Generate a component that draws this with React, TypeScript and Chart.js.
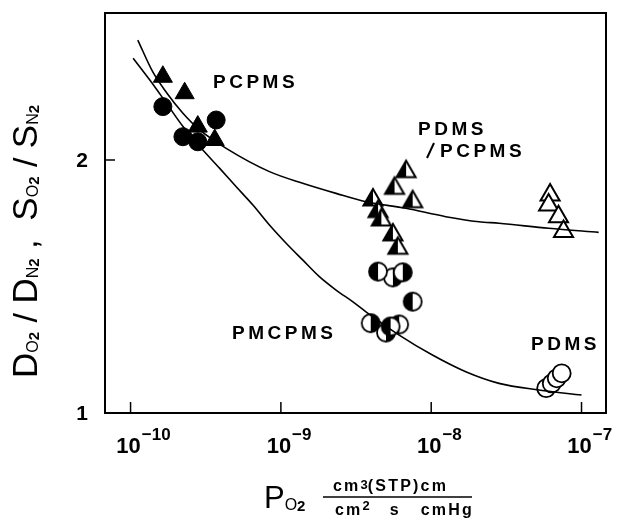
import React, { useEffect, useRef } from 'react';
import { Chart, registerables } from 'chart.js';
Chart.register(...registerables);

// ---- data (x = P_O2, y = selectivity ratio) ----
const pcpmsTriX = [1.64e-10, 2.29e-10, 2.8e-10, 3.63e-10];
const pcpmsTriY = [2.329, 2.264, 2.132, 2.079];
const pcpmsCircX = [1.64e-10, 2.23e-10, 2.8e-10, 3.71e-10];
const pcpmsCircY = [2.211, 2.092, 2.072, 2.158];
const blendTriX = [6.81e-9, 5.7e-9, 4.1e-9, 7.53e-9, 4.43e-9, 4.66e-9, 5.56e-9, 6.0e-9];
const blendTriY = [1.954, 1.888, 1.842, 1.835, 1.796, 1.763, 1.704, 1.651];
const pmcpmsLX = [4.43e-9, 7.53e-9, 6.12e-9, 5.37e-9];
const pmcpmsLY = [1.559, 1.44, 1.35, 1.342];
const pmcpmsRX = [5.56e-9, 6.47e-9, 3.96e-9, 5.0e-9];
const pmcpmsRY = [1.536, 1.556, 1.355, 1.318];
const pdmsTriX = [6.18e-8, 6.04e-8, 7.03e-8, 7.59e-8];
const pdmsTriY = [1.862, 1.822, 1.776, 1.717];
const pdmsCircX = [5.82e-8, 6.34e-8, 6.84e-8, 7.38e-8];
const pdmsCircY = [1.098, 1.117, 1.137, 1.157];

const upperCurveX = [1.117e-10, 1.406e-10, 1.742e-10, 2.223e-10, 2.884e-10, 4.355e-10, 8.395e-10, 1.396e-9, 2.328e-9, 3.681e-9, 6.776e-9, 1.25e-8, 2.08e-8, 2.825e-8, 6.053e-8, 1.3e-7];
const upperCurveY = [2.474, 2.348, 2.265, 2.186, 2.119, 2.045, 1.954, 1.908, 1.868, 1.835, 1.809, 1.776, 1.756, 1.75, 1.73, 1.714];
const lowerCurveX = [1.04e-10, 1.343e-10, 1.734e-10, 2.234e-10, 2.884e-10, 3.917e-10, 5.047e-10, 6.516e-10, 8.395e-10, 1.084e-9, 1.396e-9, 1.803e-9, 2.328e-9, 3.0e-9, 3.681e-9, 6.124e-9, 1.019e-8, 1.698e-8, 2.825e-8, 5.2e-8, 1.0e-7];
const lowerCurveY = [2.402, 2.316, 2.224, 2.132, 2.053, 1.967, 1.894, 1.822, 1.743, 1.671, 1.605, 1.539, 1.486, 1.44, 1.4, 1.308, 1.229, 1.163, 1.117, 1.091, 1.071];

const xTickExps = [-10, -9, -8, -7];
const yTicks = [1, 2];
const xMin = 6.76e-11;
const xMax = 1.455e-7;
const yMin = 1;
const yMax = 2.581;

const labels = [
  { text: 'PCPMS', x: 213, y: 88 },
  { text: 'PDMS', x: 418, y: 135 },
  { text: 'PCPMS', x: 440, y: 157 },
  { text: 'PMCPMS', x: 232, y: 339 },
  { text: 'PDMS', x: 531, y: 350 },
];

const zip = (xs: number[], ys: number[]) => xs.map((x, i) => ({ x, y: ys[i] }));

function makeHalfTriangle(): HTMLCanvasElement {
  const c = document.createElement('canvas');
  c.width = 28; c.height = 28;
  const g = c.getContext('2d')!;
  const cx = 14, cy = 14, r = 11;
  const s = r * Math.sin(Math.PI / 3);
  g.beginPath();
  g.moveTo(cx, cy - r); g.lineTo(cx + s, cy + r / 2); g.lineTo(cx - s, cy + r / 2); g.closePath();
  g.fillStyle = '#fff'; g.fill();
  g.beginPath();
  g.moveTo(cx, cy - r); g.lineTo(cx, cy + r / 2); g.lineTo(cx - s, cy + r / 2); g.closePath();
  g.fillStyle = '#000'; g.fill();
  g.beginPath();
  g.moveTo(cx, cy - r); g.lineTo(cx + s, cy + r / 2); g.lineTo(cx - s, cy + r / 2); g.closePath();
  g.lineWidth = 2; g.lineJoin = 'miter'; g.strokeStyle = '#000'; g.stroke();
  return c;
}

function makeHalfCircle(leftBlack: boolean): HTMLCanvasElement {
  const c = document.createElement('canvas');
  c.width = 24; c.height = 24;
  const g = c.getContext('2d')!;
  const cx = 12, cy = 12, r = 9;
  g.beginPath(); g.arc(cx, cy, r, 0, Math.PI * 2); g.fillStyle = '#fff'; g.fill();
  g.beginPath();
  if (leftBlack) g.arc(cx, cy, r, Math.PI / 2, Math.PI * 1.5);
  else g.arc(cx, cy, r, -Math.PI / 2, Math.PI / 2);
  g.closePath(); g.fillStyle = '#000'; g.fill();
  g.beginPath(); g.arc(cx, cy, r, 0, Math.PI * 2);
  g.lineWidth = 1.8; g.strokeStyle = '#000'; g.stroke();
  return c;
}

const SANS = '"Liberation Sans", Arial, sans-serif';

type Run = { t: string; size: number; bold?: boolean; dy?: number; ls?: number };
function drawRuns(ctx: CanvasRenderingContext2D, x: number, y: number, runs: Run[]) {
  let cx = x;
  for (const r of runs) {
    ctx.font = `${r.bold ? 'bold ' : ''}${r.size}px ${SANS}`;
    (ctx as any).letterSpacing = `${r.ls ?? 0}px`;
    ctx.fillText(r.t, cx, y + (r.dy ?? 0));
    cx += ctx.measureText(r.t).width;
  }
  (ctx as any).letterSpacing = '0px';
  return cx;
}

const decorPlugin = {
  id: 'decor',
  afterDraw(chart: any) {
    const ctx: CanvasRenderingContext2D = chart.ctx;
    const { left, right, top, bottom } = chart.chartArea;
    const xs = chart.scales.x, ys = chart.scales.y;
    ctx.save();
    ctx.strokeStyle = '#000';
    ctx.fillStyle = '#000';
    ctx.lineWidth = 2;
    ctx.strokeRect(left, top, right - left, bottom - top);
    // ticks
    ctx.lineWidth = 1.5;
    for (const e of xTickExps) {
      const px = xs.getPixelForValue(Math.pow(10, e));
      ctx.beginPath(); ctx.moveTo(px, bottom); ctx.lineTo(px, bottom - 11); ctx.stroke();
    }
    for (const v of yTicks) {
      const py = ys.getPixelForValue(v);
      if (v > yMin) { ctx.beginPath(); ctx.moveTo(left, py); ctx.lineTo(left + 10, py); ctx.stroke(); }
    }
    // x tick labels
    ctx.textBaseline = 'alphabetic';
    ctx.textAlign = 'left';
    for (const e of xTickExps) {
      const px = xs.getPixelForValue(Math.pow(10, e));
      ctx.font = `bold 22px ${SANS}`;
      const w = ctx.measureText('10').width;
      const sx = px - w / 2 - 2;
      ctx.fillText('10', sx, 453);
      ctx.font = `bold 17px ${SANS}`;
      ctx.fillText('\u2212' + Math.abs(e), sx + w + 1, 440);
    }
    // y tick labels
    ctx.textAlign = 'right';
    ctx.textBaseline = 'middle';
    ctx.font = `bold 21px ${SANS}`;
    for (const v of yTicks) {
      ctx.fillText(String(v), 88, ys.getPixelForValue(v) + 1);
    }
    // annotations
    ctx.textAlign = 'left';
    ctx.textBaseline = 'alphabetic';
    for (const l of labels) {
      drawRuns(ctx, l.x, l.y, [{ t: l.text, size: 19, bold: true, ls: 3.5 }]);
    }
    // slash before second PCPMS
    ctx.lineWidth = 2;
    ctx.beginPath(); ctx.moveTo(427, 158); ctx.lineTo(434, 143); ctx.stroke();

    // x axis title
    ctx.textAlign = 'left';
    ctx.textBaseline = 'alphabetic';
    drawRuns(ctx, 264, 508, [{ t: 'P', size: 31 }, { t: 'O', size: 16, dy: 2 }, { t: '2', size: 15, bold: true, dy: 3 }]);
    drawRuns(ctx, 333, 491, [
      { t: 'cm', size: 16, bold: true, ls: 2.2 },
      { t: '3', size: 13, bold: true, dy: -2 },
      { t: '(STP)cm', size: 16, bold: true, ls: 2.2 },
    ]);
    ctx.lineWidth = 1.5;
    ctx.beginPath(); ctx.moveTo(323, 497); ctx.lineTo(472, 497); ctx.stroke();
    drawRuns(ctx, 335, 515, [
      { t: 'cm', size: 16, bold: true, ls: 2.2 },
      { t: '2', size: 13, bold: true, dy: -5 },
      { t: '   s   cmHg', size: 16, bold: true, ls: 2.2 },
    ]);

    // y axis title (rotated)
    ctx.translate(37, 378);
    ctx.rotate(-Math.PI / 2);
    drawRuns(ctx, 0, 0, [
      { t: 'D', size: 35 }, { t: 'O', size: 16, dy: 1 }, { t: '2', size: 15, bold: true, dy: 2 },
      { t: ' / ', size: 34 },
      { t: 'D', size: 35 }, { t: 'N', size: 16, dy: 1 }, { t: '2', size: 15, bold: true, dy: 2 },
      { t: ' ,  ', size: 34 },
      { t: 'S', size: 35 }, { t: 'O', size: 16, dy: 1 }, { t: '2', size: 15, bold: true, dy: 2 },
      { t: ' / ', size: 34 },
      { t: 'S', size: 35 }, { t: 'N', size: 16, dy: 1 }, { t: '2', size: 15, bold: true, dy: 2 },
    ]);
    ctx.restore();
  },
};

export default function App() {
  const ref = useRef<HTMLCanvasElement | null>(null);
  useEffect(() => {
    document.body.style.margin = '0';
    const halfTri = makeHalfTriangle();
    const halfL = makeHalfCircle(true);
    const halfR = makeHalfCircle(false);
    const curve = (xs: number[], ys: number[]) => ({
      type: 'line' as const,
      data: zip(xs, ys),
      showLine: true,
      borderColor: '#000',
      borderWidth: 1.6,
      pointRadius: 0,
      fill: false,
      cubicInterpolationMode: 'monotone' as const,
    });
    const chart = new Chart(ref.current!, {
      type: 'scatter',
      data: {
        datasets: [
          curve(upperCurveX, upperCurveY),
          curve(lowerCurveX, lowerCurveY),
          { data: zip(pcpmsTriX, pcpmsTriY), pointStyle: 'triangle', pointRadius: 11, backgroundColor: '#000', borderColor: '#000', borderWidth: 1 },
          { data: zip(pcpmsCircX, pcpmsCircY), pointStyle: 'circle', pointRadius: 9, backgroundColor: '#000', borderColor: '#000', borderWidth: 1 },
          { data: zip(blendTriX, blendTriY), pointStyle: halfTri, pointRadius: 11 },
          { data: zip(pmcpmsLX, pmcpmsLY), pointStyle: halfL, pointRadius: 9 },
          { data: zip(pmcpmsRX, pmcpmsRY), pointStyle: halfR, pointRadius: 9 },
          { data: zip(pdmsTriX, pdmsTriY), pointStyle: 'triangle', pointRadius: 11, backgroundColor: '#fff', borderColor: '#000', borderWidth: 2 },
          { data: zip(pdmsCircX, pdmsCircY), pointStyle: 'circle', pointRadius: 9, backgroundColor: '#fff', borderColor: '#000', borderWidth: 1.8 },
        ] as any,
      },
      options: {
        animation: false,
        responsive: false,
        devicePixelRatio: 1,
        layout: { padding: { left: 105, top: 13, right: 12, bottom: 106 } },
        plugins: { legend: { display: false }, tooltip: { enabled: false } },
        scales: {
          x: { type: 'logarithmic', min: xMin, max: xMax, display: false },
          y: { type: 'linear', min: yMin, max: yMax, display: false },
        },
      },
      plugins: [decorPlugin],
    });
    return () => chart.destroy();
  }, []);
  return (
    <div style={{ width: 619, height: 519 }}>
      <canvas ref={ref} width={619} height={519} style={{ display: 'block' }} />
    </div>
  );
}
